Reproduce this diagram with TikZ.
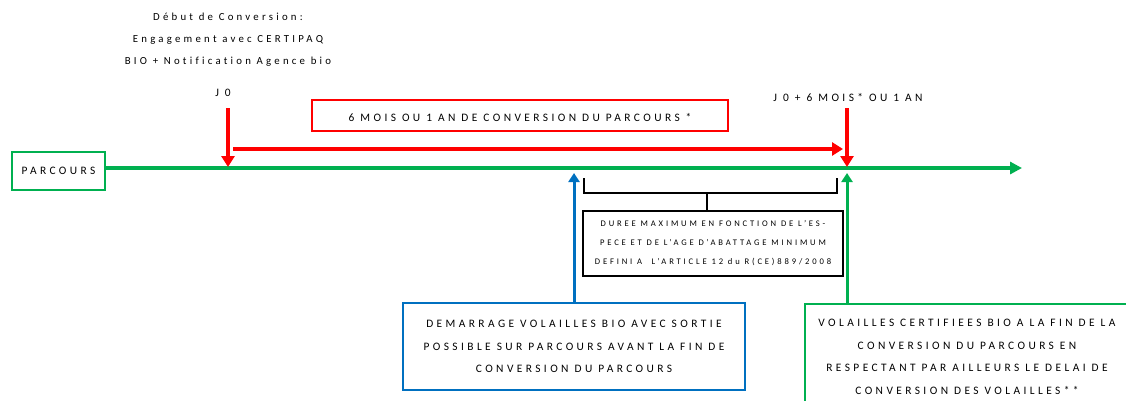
\documentclass[tikz,border=0pt]{standalone}
\usepackage{fontspec}
\newfontfamily\calib[LetterSpace=30, Ligatures=NoCommon]{Carlito}
\usetikzlibrary{arrows.meta, calc}
\definecolor{vert}{RGB}{0,176,80}
\definecolor{rouge}{RGB}{255,0,0}
\definecolor{bleu}{RGB}{0,112,192}

\begin{document}
\begin{tikzpicture}[x=1pt, y=-1pt,
	txt/.style={font=\calib\fontsize{11.4}{22.5}\selectfont, align=center, inner sep=0pt},
	petit/.style={font=\calib\addfontfeature{LetterSpace=33}\fontsize{8.6}{19}\selectfont},
	cadre/.style={draw, line width=2.5pt, txt},
	fleche/.style={line width=4pt, -{Triangle[length=11pt, width=13pt]}},
	montee/.style={line width=3pt, -{Triangle[length=9pt, width=11pt]}}]
	\useasboundingbox (0,0) rectangle (1126,400);
	\coordinate (j0haut) at (228,108);
	\coordinate (j0) at (228,167);
	\coordinate (j6haut) at (847,108);
	\coordinate (j6) at (847,167);
	\coordinate (rdebut) at (233,149);
	\coordinate (rfin) at (843,149);
	\coordinate (fin) at (1022,168);
	\coordinate (bleuhaut) at (574,173);
	\coordinate (verthaut) at (847,173);
	\coordinate (accg) at (584,178);
	\coordinate (accd) at (837,178);
	\coordinate (accm) at (707,193);
	\node[txt, font=\calib\fontsize{10.8}{22}\selectfont] (debut) at (228,39.5) {Début de Conversion:\\Engagement avec CERTIPAQ\\BIO + Notification Agence bio};
	\node[txt] (j0lbl) at (223,93) {J 0};
	\node[txt] (j6lbl) at (848,97) {J 0 + 6 MOIS* OU 1 AN};
	\node[cadre, draw=vert, minimum width=93pt, minimum height=38pt] (parcours) at (58.5,171) {PARCOURS};
	\node[cadre, draw=rouge, minimum width=416pt, minimum height=31pt, text height=12pt, text depth=0pt] (conv) at (520,115.5) {6 MOIS OU 1 AN DE CONVERSION DU PARCOURS *};
	\node[cadre, petit, line width=2pt, minimum width=260pt, minimum height=65pt] (duree) at (713,243.5) {DUREE MAXIMUM EN FONCTION DE L’ES-\\PECE ET DE L’AGE D’ABATTAGE MINIMUM\\DEFINI A\ \ L’ARTICLE 12 du R(CE)889/2008};
	\node[cadre, draw=bleu, minimum width=342pt, minimum height=87pt] (demarrage) at (574,346.5) {DEMARRAGE VOLAILLES BIO AVEC SORTIE\\POSSIBLE SUR PARCOURS AVANT LA FIN DE\\CONVERSION DU PARCOURS};
	\node[cadre, draw=vert, minimum width=324pt, minimum height=106pt] (certif) at (967,357) {VOLAILLES CERTIFIEES BIO A LA FIN DE LA\\CONVERSION DU PARCOURS EN\\RESPECTANT PAR AILLEURS LE DELAI DE\\CONVERSION DES VOLAILLES**};
	\draw[vert, line width=4pt, -{Triangle[length=12pt, width=12pt]}] ($(parcours.east)+(0,-3)$) -- (fin);
	\draw[fleche, rouge] (j0haut) -- (j0);
	\draw[fleche, rouge] (j6haut) -- (j6);
	\draw[fleche, rouge, line width=3.5pt] (rdebut) -- (rfin);
	\draw[montee, bleu] (demarrage.north -| bleuhaut) -- (bleuhaut);
	\draw[montee, vert] (certif.north -| verthaut) -- (verthaut);
	\draw[line width=2.5pt] (accg) -- ++(0,15) -| (accd);
	\draw[line width=2.5pt] (accm) -- (accm |- duree.north);
\end{tikzpicture}
\end{document}
